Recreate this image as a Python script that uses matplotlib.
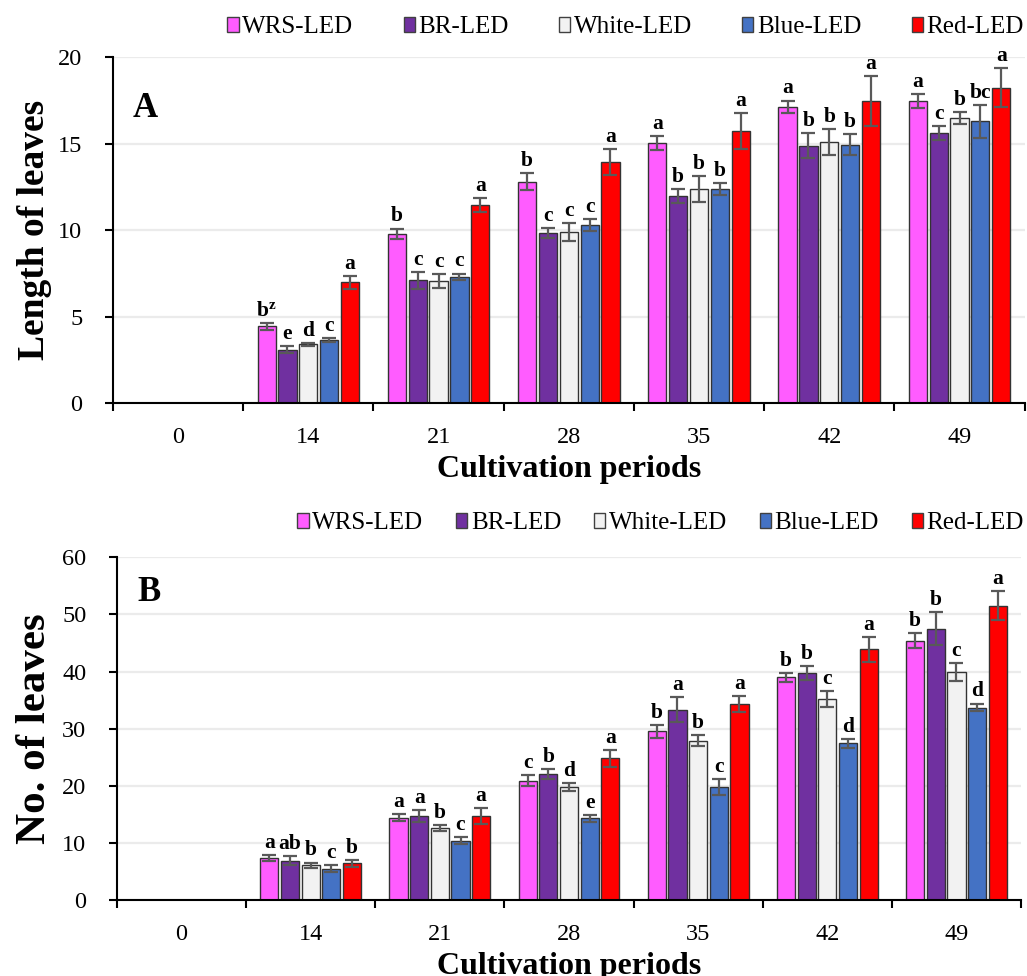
import numpy as np
import matplotlib
matplotlib.use("Agg")
import matplotlib.pyplot as plt
from matplotlib.patches import Patch

plt.rcParams['font.family'] = ['Liberation Serif', 'DejaVu Serif']
plt.rcParams['mathtext.fontset'] = 'custom'
plt.rcParams['mathtext.rm'] = 'Liberation Serif'
plt.rcParams['mathtext.bf'] = 'Liberation Serif:bold'

# cultivation days
days = ["0", "14", "21", "28", "35", "42", "49"]
series = ["WRS-LED", "BR-LED", "White-LED", "Blue-LED", "Red-LED"]
colors = ["#FF5CFF", "#7030A0", "#F2F2F2", "#4472C4", "#FF0000"]

# panel A - length of leaves (days 14..49)
len_wrs = [4.45, 9.8, 12.8, 15.05, 17.15, 17.45]
len_br = [3.1, 7.1, 9.85, 12.0, 14.9, 15.6]
len_white = [3.4, 7.05, 9.9, 12.4, 15.1, 16.5]
len_blue = [3.65, 7.3, 10.3, 12.4, 14.95, 16.3]
len_red = [7.0, 11.45, 13.95, 15.75, 17.45, 18.25]
len_wrs_err = [0.2, 0.3, 0.5, 0.4, 0.35, 0.4]
len_br_err = [0.2, 0.5, 0.3, 0.4, 0.7, 0.4]
len_white_err = [0.1, 0.4, 0.5, 0.75, 0.75, 0.35]
len_blue_err = [0.12, 0.2, 0.35, 0.35, 0.6, 0.95]
len_red_err = [0.38, 0.42, 0.75, 1.05, 1.45, 1.15]
len_wrs_let = [r"$\mathbf{b^{z}}$", "b", "b", "a", "a", "a"]
len_br_let = ["e", "c", "c", "b", "b", "c"]
len_white_let = ["d", "c", "c", "b", "b", "b"]
len_blue_let = ["c", "c", "c", "b", "b", "bc"]
len_red_let = ["a", "a", "a", "a", "a", "a"]

# panel B - number of leaves (days 14..49)
no_wrs = [7.3, 14.4, 20.9, 29.5, 39.0, 45.4]
no_br = [6.85, 14.7, 22.1, 33.3, 39.7, 47.5]
no_white = [6.1, 12.6, 19.8, 27.9, 35.2, 39.9]
no_blue = [5.45, 10.4, 14.3, 19.8, 27.4, 33.7]
no_red = [6.4, 14.7, 24.8, 34.3, 43.9, 51.5]
no_wrs_err = [0.5, 0.6, 1.0, 1.1, 0.75, 1.35]
no_br_err = [0.8, 1.0, 0.9, 2.2, 1.2, 2.9]
no_white_err = [0.45, 0.55, 0.75, 0.9, 1.35, 1.55]
no_blue_err = [0.6, 0.65, 0.6, 1.35, 0.85, 0.7]
no_red_err = [0.55, 1.4, 1.45, 1.35, 2.15, 2.55]
no_wrs_let = ["a", "a", "c", "b", "b", "b"]
no_br_let = ["ab", "a", "b", "a", "b", "b"]
no_white_let = ["b", "b", "d", "b", "c", "c"]
no_blue_let = ["c", "c", "e", "c", "d", "d"]
no_red_let = ["b", "a", "a", "a", "a", "a"]


def draw_panel(ax, vals, errs, lets, ymax, ystep, ylabel, ylabel_size, ylabel_pad,
               letter, letter_pos):
    x = np.arange(1, len(days))
    w = 0.14
    step = 0.16
    for i in range(5):
        xi = x + (i - 2) * step
        ax.bar(xi, vals[i], w, color=colors[i], edgecolor="#333333",
               linewidth=1.0, zorder=3)
        ax.errorbar(xi, vals[i], yerr=errs[i], fmt="none", ecolor="#595959",
                    elinewidth=1.6, capsize=5, capthick=1.6, zorder=4)
        for xx, v, e, t in zip(xi, vals[i], errs[i], lets[i]):
            ax.annotate(t, (xx, v + e), xytext=(0, 1.5), textcoords="offset points",
                        ha="center", va="bottom", fontsize=15.5, fontweight="bold",
                        zorder=5)
    ax.set_xlim(-0.5, len(days) - 0.5)
    ax.set_ylim(0, ymax)
    ax.set_yticks(np.arange(0, ymax + 1, ystep))
    ax.yaxis.grid(True, color="#EBEBEB", linewidth=1.6, zorder=0)
    ax.set_axisbelow(True)
    ax.set_xticks(np.arange(-0.5, len(days), 1.0))
    ax.set_xticklabels([])
    ax.set_xticks(np.arange(len(days)), minor=True)
    ax.set_xticklabels(days, minor=True)
    ax.tick_params(axis="x", which="major", length=6, width=1.5, direction="out")
    ax.tick_params(axis="x", which="minor", length=0, pad=17, labelsize=17.5)
    ax.tick_params(axis="y", length=6, width=1.5, pad=16, labelsize=17.5)
    for s in ["top", "right"]:
        ax.spines[s].set_visible(False)
    for s in ["left", "bottom"]:
        ax.spines[s].set_linewidth(1.5)
        ax.spines[s].set_color("black")
        ax.spines[s].set_zorder(6)
    ax.set_xlabel("Cultivation periods", fontsize=23, fontweight="bold", labelpad=5)
    ax.set_ylabel(ylabel, fontsize=ylabel_size, fontweight="bold", labelpad=ylabel_pad)
    ax.text(letter_pos[0], letter_pos[1], letter, transform=ax.transAxes,
            fontsize=25, fontweight="bold", ha="left", va="baseline")


fig = plt.figure(figsize=(10.27, 9.76), dpi=100)
ax1 = fig.add_axes([0.110, 0.5868, 0.8877, 0.3545])
ax2 = fig.add_axes([0.1139, 0.0779, 0.8803, 0.3511])

draw_panel(ax1,
           [len_wrs, len_br, len_white, len_blue, len_red],
           [len_wrs_err, len_br_err, len_white_err, len_blue_err, len_red_err],
           [len_wrs_let, len_br_let, len_white_let, len_blue_let, len_red_let],
           20, 5, "Length of leaves", 27, 4, "A", (0.022, 0.827))
draw_panel(ax2,
           [no_wrs, no_br, no_white, no_blue, no_red],
           [no_wrs_err, no_br_err, no_white_err, no_blue_err, no_red_err],
           [no_wrs_let, no_br_let, no_white_let, no_blue_let, no_red_let],
           60, 10, "No. of leaves", 31, 6, "B", (0.023, 0.872))

handles = [Patch(facecolor=c, edgecolor="#404040", linewidth=1.0, label=s)
           for c, s in zip(colors, series)]
fig.legend(handles=handles, ncol=5, loc="center right", bbox_to_anchor=(0.997, 0.9723),
           frameon=False, fontsize=18, handlelength=0.45, handleheight=0.55,
           handletextpad=0.15, columnspacing=2.0, borderpad=0, borderaxespad=0)
fig.legend(handles=handles, ncol=5, loc="center right", bbox_to_anchor=(0.997, 0.464),
           frameon=False, fontsize=18, handlelength=0.45, handleheight=0.55,
           handletextpad=0.15, columnspacing=1.3, borderpad=0, borderaxespad=0)

fig.savefig("out.png", dpi=100)
